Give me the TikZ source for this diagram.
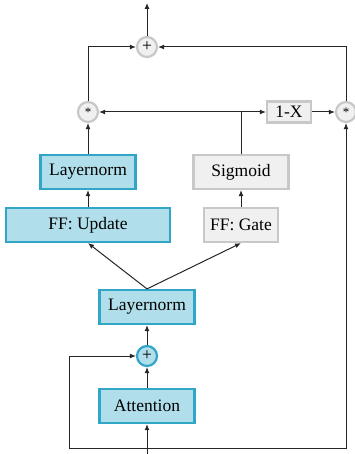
\documentclass[tikz,border=0pt]{standalone}
\usepackage{fontspec}
\setmainfont{Liberation Serif}
\usetikzlibrary{arrows.meta}
\definecolor{blockblue}{RGB}{176,222,234}
\definecolor{edgeblue}{RGB}{50,166,198}
\definecolor{blockgray}{RGB}{240,240,240}
\definecolor{edgegray}{RGB}{200,200,200}
\begin{document}
\begin{tikzpicture}[x=1pt,y=1pt,
    font=\fontsize{17.5}{20}\selectfont,
    blue block/.style={draw=edgeblue,fill=blockblue,line width=2.2pt,minimum height=34pt},
    gray block/.style={draw=edgegray,fill=blockgray,line width=2.2pt,minimum height=34pt},
    op/.style={circle,draw=edgegray,fill=blockgray,line width=2.2pt,minimum size=20pt,inner sep=0pt},
    wire/.style={black!85,line width=1pt},
    arr/.style={wire,-{Latex[length=6pt,width=5pt]}}]
    \useasboundingbox (0,0) rectangle (355,-454);
    % blocks
    \node [blue block,minimum width=95pt] (attn) at (147,-406) {Attention};
    \node [op,draw=edgeblue,fill=blockblue] (add1) at (147,-356) {+};
    \node [blue block,minimum width=95pt] (norm1) at (147,-307) {Layernorm};
    \node [blue block,minimum width=164pt] (ffup) at (88,-225) {FF: Update};
    \node [blue block,minimum width=95pt] (norm2) at (88,-172) {Layernorm};
    \node [gray block,minimum width=74pt] (ffgate) at (241,-225) {FF: Gate};
    \node [gray block,minimum width=95pt] (sig) at (241,-172) {Sigmoid};
    \node [op] (mulL) at (88,-112) {\raisebox{-4pt}{\fontsize{13}{13}\selectfont *}};
    \node [gray block,minimum width=44pt,minimum height=21pt,inner sep=1pt] (inv) at (289,-112) {1-X};
    \node [op] (mulR) at (346,-112) {\raisebox{-4pt}{\fontsize{13}{13}\selectfont *}};
    \node [op] (add2) at (147,-47) {+};
    \coordinate (in) at (147,-454);
    \coordinate (split) at (147,-448);
    \coordinate (out) at (147,-3);
    \coordinate (gate) at (sig.north |- mulL);
    % connectors
    \draw [arr] (in) -- (attn);
    \draw [arr] (attn) -- (add1);
    \draw [arr] (split) -| (69,-356) -- (add1);
    \draw [arr] (split) -| (mulR);
    \draw [arr] (add1) -- (norm1);
    \draw [arr] (norm1.north) -- (ffup.south);
    \draw [arr] (norm1.north) -- (ffgate.south);
    \draw [arr] (ffup) -- (norm2);
    \draw [arr] (ffgate) -- (sig);
    \draw [arr] (norm2) -- (mulL);
    \draw [wire] (sig) -- (gate);
    \draw [arr] (gate) -- (mulL);
    \draw [arr] (gate) -- (inv);
    \draw [arr] (inv) -- (mulR);
    \draw [arr] (mulL) |- (add2);
    \draw [arr] (mulR) |- (add2);
    \draw [arr] (add2) -- (out);
\end{tikzpicture}
\end{document}
